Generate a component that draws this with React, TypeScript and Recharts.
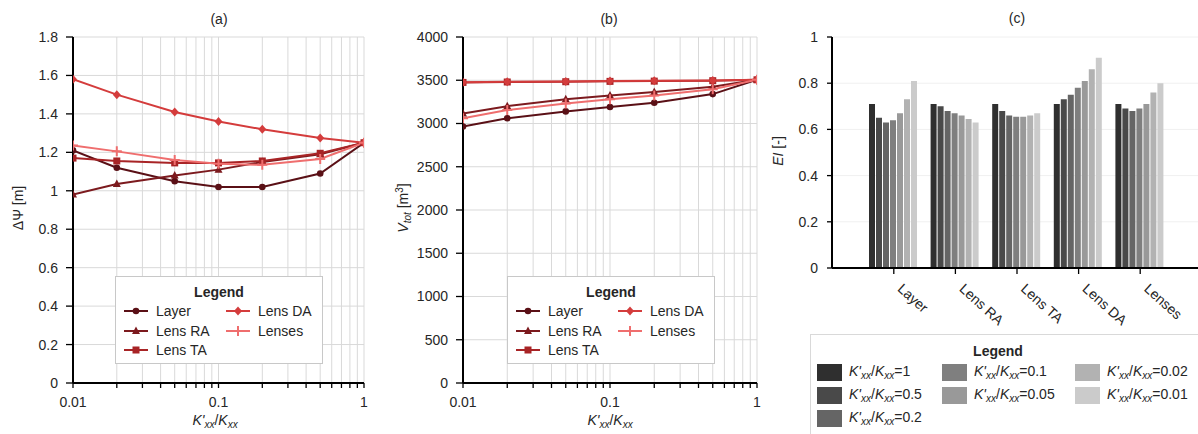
import { type FC, type ReactNode } from "react";
import { Bar, BarChart, CartesianGrid, Line, LineChart, XAxis, YAxis } from "recharts";

// x values (K'xx/Kxx) shared by panels (a) and (b)
const ratios = [0.01, 0.02, 0.05, 0.1, 0.2, 0.5, 1];
const logTicks = [
  0.01, 0.02, 0.03, 0.04, 0.05, 0.06, 0.07, 0.08, 0.09, 0.1, 0.2, 0.3, 0.4, 0.5, 0.6, 0.7,
  0.8, 0.9, 1,
];
const majorTicks = [0.01, 0.1, 1];

// panel (a): head difference [m]
const headLayer = [1.21, 1.12, 1.05, 1.02, 1.02, 1.09, 1.25];
const headLensRA = [0.98, 1.035, 1.08, 1.11, 1.15, 1.19, 1.25];
const headLensTA = [1.17, 1.155, 1.145, 1.145, 1.155, 1.195, 1.25];
const headLensDA = [1.58, 1.5, 1.41, 1.36, 1.32, 1.275, 1.25];
const headLenses = [1.235, 1.205, 1.16, 1.14, 1.135, 1.165, 1.25];
const headTicks = [0, 0.2, 0.4, 0.6, 0.8, 1, 1.2, 1.4, 1.6, 1.8];

// panel (b): total volume [m3]
const volLayer = [2965, 3060, 3140, 3190, 3240, 3340, 3505];
const volLensRA = [3115, 3200, 3280, 3325, 3365, 3425, 3505];
const volLensTA = [3475, 3480, 3483, 3487, 3490, 3495, 3505];
const volLensDA = [3478, 3482, 3486, 3490, 3494, 3498, 3505];
const volLenses = [3060, 3155, 3230, 3280, 3325, 3395, 3505];
const volTicks = [0, 500, 1000, 1500, 2000, 2500, 3000, 3500, 4000];

// panel (c): efficiency index per configuration
const configs = ["Layer", "Lens RA", "Lens TA", "Lens DA", "Lenses"];
const ei1 = [0.71, 0.71, 0.71, 0.71, 0.71];
const ei05 = [0.65, 0.7, 0.68, 0.73, 0.69];
const ei02 = [0.63, 0.68, 0.66, 0.75, 0.68];
const ei01 = [0.64, 0.67, 0.655, 0.78, 0.69];
const ei005 = [0.67, 0.66, 0.655, 0.81, 0.71];
const ei002 = [0.73, 0.645, 0.66, 0.86, 0.76];
const ei001 = [0.81, 0.63, 0.67, 0.91, 0.8];
const eiTicks = [0, 0.2, 0.4, 0.6, 0.8, 1];

const FONT = '"Liberation Sans", Arial, sans-serif';
const TEXT = "#262626";

type Shape = "circle" | "triangle" | "square" | "diamond" | "plus";

const lineSeries: { key: string; name: string; color: string; shape: Shape; head: number[]; vol: number[] }[] = [
  { key: "layer", name: "Layer", color: "#5a1016", shape: "circle", head: headLayer, vol: volLayer },
  { key: "ra", name: "Lens RA", color: "#7c1a1e", shape: "triangle", head: headLensRA, vol: volLensRA },
  { key: "ta", name: "Lens TA", color: "#a82426", shape: "square", head: headLensTA, vol: volLensTA },
  { key: "da", name: "Lens DA", color: "#d43c3c", shape: "diamond", head: headLensDA, vol: volLensDA },
  { key: "lenses", name: "Lenses", color: "#ef6e6e", shape: "plus", head: headLenses, vol: volLenses },
];

const barSeries = [
  { key: "k1", label: "1", color: "#2f2f2f", values: ei1 },
  { key: "k05", label: "0.5", color: "#494949", values: ei05 },
  { key: "k02", label: "0.2", color: "#656565", values: ei02 },
  { key: "k01", label: "0.1", color: "#7f7f7f", values: ei01 },
  { key: "k005", label: "0.05", color: "#999999", values: ei005 },
  { key: "k002", label: "0.02", color: "#b2b2b2", values: ei002 },
  { key: "k001", label: "0.01", color: "#cbcbcb", values: ei001 },
];

const headData = ratios.map((r, i) => {
  const row: Record<string, number> = { ratio: r };
  lineSeries.forEach((s) => (row[s.key] = s.head[i]));
  return row;
});

const volData = ratios.map((r, i) => {
  const row: Record<string, number> = { ratio: r };
  lineSeries.forEach((s) => (row[s.key] = s.vol[i]));
  return row;
});

const eiData = configs.map((name, i) => {
  const row: Record<string, number | string> = { name };
  barSeries.forEach((s) => (row[s.key] = s.values[i]));
  return row;
});

const Marker: FC<{ cx: number; cy: number; shape: Shape; color: string }> = ({ cx, cy, shape, color }) => {
  switch (shape) {
    case "circle":
      return <circle cx={cx} cy={cy} r={3.3} fill={color} />;
    case "triangle":
      return <polygon points={`${cx},${cy - 4.5} ${cx + 4},${cy + 3} ${cx - 4},${cy + 3}`} fill={color} />;
    case "square":
      return <rect x={cx - 3.5} y={cy - 3.5} width={7} height={7} fill={color} />;
    case "diamond":
      return <polygon points={`${cx},${cy - 4.5} ${cx + 4},${cy} ${cx},${cy + 4.5} ${cx - 4},${cy}`} fill={color} />;
    default:
      return (
        <path d={`M${cx - 5},${cy} H${cx + 5} M${cx},${cy - 5} V${cy + 5}`} stroke={color} strokeWidth={2} />
      );
  }
};

const Kxx: FC<{ size?: number }> = ({ size = 10 }) => (
  <>
    <i>K'</i>
    <sub style={{ fontSize: size, fontStyle: "italic", verticalAlign: -3 }}>xx</sub>/<i>K</i>
    <sub style={{ fontSize: size, fontStyle: "italic", verticalAlign: -3 }}>xx</sub>
  </>
);

const Abs: FC<{ x: number; y: number; rotate?: boolean; children: ReactNode; style?: any }> = ({
  x,
  y,
  rotate,
  children,
  style,
}) => (
  <div
    style={{
      position: "absolute",
      left: x,
      top: y,
      transform: `translate(-50%, -50%)${rotate ? " rotate(-90deg)" : ""}`,
      whiteSpace: "nowrap",
      fontSize: 14,
      color: TEXT,
      lineHeight: 1,
      ...style,
    }}
  >
    {children}
  </div>
);

const LineLegend: FC<{ left: number; top: number }> = ({ left, top }) => {
  const cols = [lineSeries.slice(0, 3), lineSeries.slice(3)];
  return (
    <div
      style={{
        position: "absolute",
        left,
        top,
        width: 206,
        height: 86,
        border: "1px solid #c8c8c8",
        background: "white",
        fontSize: 14,
        color: TEXT,
      }}
    >
      <div style={{ position: "absolute", top: 7, width: "100%", textAlign: "center", fontWeight: "bold" }}>
        Legend
      </div>
      {cols.map((col, ci) =>
        col.map((s, ri) => (
          <div
            key={s.key}
            style={{
              position: "absolute",
              left: ci === 0 ? 7 : 109,
              top: 26 + ri * 19.5,
              display: "flex",
              alignItems: "center",
              height: 16,
            }}
          >
            <svg width={26} height={12}>
              <line x1={1} y1={6} x2={25} y2={6} stroke={s.color} strokeWidth={2} />
              <Marker cx={13} cy={6} shape={s.shape} color={s.color} />
            </svg>
            <span style={{ marginLeft: 7 }}>{s.name}</span>
          </div>
        ))
      )}
    </div>
  );
};

const BarLegend: FC = () => (
  <div
    style={{
      position: "absolute",
      left: 810,
      top: 334,
      width: 420,
      height: 120,
      border: "1px solid #d9d9d9",
      background: "white",
      fontSize: 14,
      color: TEXT,
    }}
  >
    <div style={{ position: "absolute", top: 8, left: 0, width: 374, textAlign: "center", fontWeight: "bold" }}>
      Legend
    </div>
    {barSeries.map((s, i) => {
      const col = i < 3 ? 0 : i < 5 ? 1 : 2;
      const row = i < 3 ? i : i < 5 ? i - 3 : i - 5;
      const lefts = [6, 131, 264];
      return (
        <div
          key={s.key}
          style={{ position: "absolute", left: lefts[col], top: 28 + row * 23, display: "flex", alignItems: "center" }}
        >
          <div style={{ width: 25, height: 17, background: s.color }} />
          <span style={{ marginLeft: 7 }}>
            <Kxx />={s.label}
          </span>
        </div>
      );
    })}
  </div>
);

const axisLine = { stroke: "#000", strokeWidth: 2 };
const tickLine = { stroke: "#000", strokeWidth: 1.3 };
const tickStyle = { fill: TEXT, fontSize: 14, fontFamily: FONT };

const LogPanel: FC<{
  left: number;
  data: Record<string, number>[];
  yMax: number;
  yTicks: number[];
  marginRight: number;
}> = ({ left, data, yMax, yTicks, marginRight }) => (
  <div style={{ position: "absolute", left, top: 0 }}>
    <LineChart width={390} height={434} data={data} margin={{ top: 37, right: marginRight, bottom: 21, left: 0 }}>
      <CartesianGrid stroke="#d9d9d9" strokeWidth={1} />
      <XAxis
        dataKey="ratio"
        type="number"
        scale="log"
        domain={[0.01, 1]}
        ticks={logTicks}
        interval={0}
        tickFormatter={(v) => (majorTicks.includes(v) ? String(v) : "")}
        height={30}
        tickSize={5}
        tickMargin={9}
        axisLine={axisLine}
        tickLine={tickLine}
        tick={tickStyle}
        allowDataOverflow
      />
      <YAxis
        type="number"
        domain={[0, yMax]}
        ticks={yTicks}
        interval={0}
        width={73}
        tickSize={7}
        tickMargin={8}
        axisLine={axisLine}
        tickLine={tickLine}
        tick={tickStyle}
      />
      {lineSeries.map((s) => (
        <Line
          key={s.key}
          type="linear"
          dataKey={s.key}
          stroke={s.color}
          strokeWidth={2}
          isAnimationActive={false}
          dot={(p: any) => <Marker key={`${s.key}-${p.index}`} cx={p.cx} cy={p.cy} shape={s.shape} color={s.color} />}
          activeDot={false}
        />
      ))}
    </LineChart>
  </div>
);

const CategoryTick: FC<any> = ({ x, y, payload }) => (
  <text
    x={x + 3}
    y={y + 14}
    transform={`rotate(42, ${x + 3}, ${y + 14})`}
    textAnchor="start"
    fill={TEXT}
    fontSize={14}
    fontFamily={FONT}
  >
    {payload.value}
  </text>
);

export default function App() {
  return (
    <div
      style={{
        position: "absolute",
        left: 0,
        top: 0,
        width: 1198,
        height: 434,
        overflow: "hidden",
        background: "white",
        fontFamily: FONT,
      }}
    >
      <LogPanel left={0} data={headData} yMax={1.8} yTicks={headTicks} marginRight={26} />
      <LogPanel left={390} data={volData} yMax={4000} yTicks={volTicks} marginRight={23} />

      <div style={{ position: "absolute", left: 780, top: 0 }}>
        <BarChart
          width={418}
          height={434}
          data={eiData}
          margin={{ top: 37, right: 0, bottom: 106, left: 0 }}
          barCategoryGap={6}
          barGap={1}
        >
          <CartesianGrid vertical={false} stroke="#f0f0f0" />
          <XAxis
            dataKey="name"
            type="category"
            interval={0}
            height={60}
            padding={{ left: 31, right: 27 }}
            tickSize={6}
            axisLine={axisLine}
            tickLine={tickLine}
            tick={<CategoryTick />}
          />
          <YAxis
            type="number"
            domain={[0, 1]}
            ticks={eiTicks}
            interval={0}
            width={52}
            tickSize={5}
            tickMargin={9}
            axisLine={axisLine}
            tickLine={tickLine}
            tick={tickStyle}
          />
          {barSeries.map((s) => (
            <Bar key={s.key} dataKey={s.key} fill={s.color} isAnimationActive={false} />
          ))}
        </BarChart>
      </div>

      <Abs x={219} y={19}>(a)</Abs>
      <Abs x={609} y={19}>(b)</Abs>
      <Abs x={1017} y={18}>(c)</Abs>

      <Abs x={18} y={208} rotate>
        ΔΨ [m]
      </Abs>
      <Abs x={404} y={208} rotate>
        <i>V</i>
        <sub style={{ fontSize: 10, fontStyle: "italic", verticalAlign: -3 }}>tot</sub> [m
        <sup style={{ fontSize: 10, verticalAlign: 5 }}>3</sup>]
      </Abs>
      <Abs x={778} y={151} rotate>
        <i>EI</i> [-]
      </Abs>

      <Abs x={215} y={421}>
        <Kxx />
      </Abs>
      <Abs x={610} y={421}>
        <Kxx />
      </Abs>

      <LineLegend left={115} top={276} />
      <LineLegend left={507} top={276} />
      <BarLegend />
    </div>
  );
}
